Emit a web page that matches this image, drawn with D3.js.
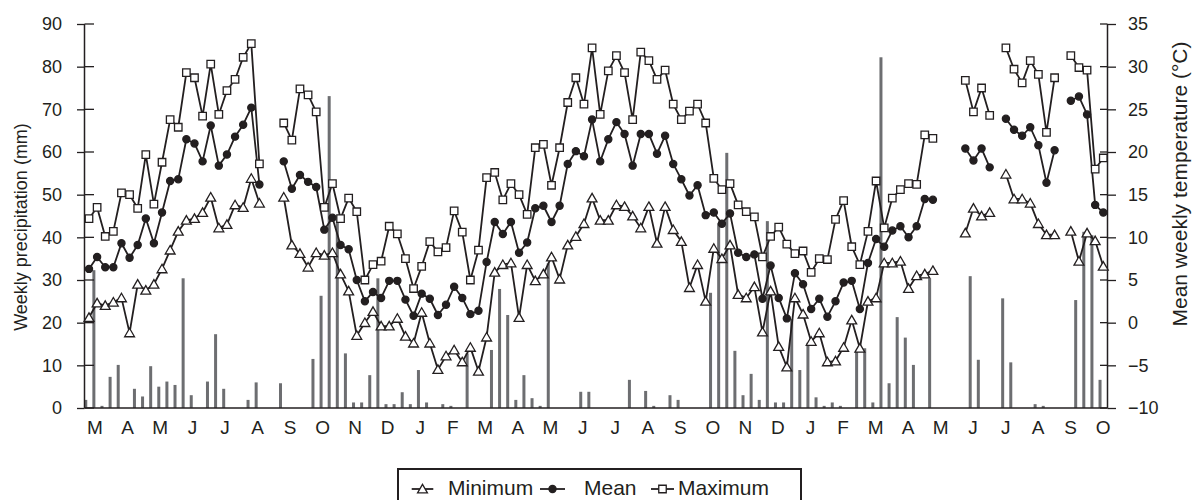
<!DOCTYPE html>
<html><head><meta charset="utf-8">
<script src="https://cdn.jsdelivr.net/npm/d3@7"></script>
<style>
body{margin:0;background:#fff;}
svg text{font-family:"Liberation Sans",Arial,Helvetica,sans-serif;fill:#231f20;}
</style></head><body>
<svg id="c" width="1193" height="500"></svg>
<script>
// weekly data, index = week number (0 = pre-week with rain only)
const precip = [
 1.9,32.3,0.5,7.3,10.1,0,4.5,2.7,9.8,5.0,
 6.2,5.4,30.4,3.0,0,6.2,17.3,4.5,0,0,
 1.9,6.0,0,0,5.8,0,0,0,11.5,26.3,
 73.1,43.7,12.8,1.3,1.3,7.7,30.4,0.9,0.9,3.7,
 0.9,8.9,1.3,0,0.9,0.5,0,12.8,0,0,
 13.6,27.9,21.8,1.9,7.7,2.3,0.5,33.9,0,0,
 0,3.8,3.8,0,0,0,0,6.6,0,4.0,
 0.5,0,3.0,1.9,0,0,0,27.0,43.3,59.8,
 13.4,3.0,8.0,1.9,43.8,1.3,1.3,20.9,8.9,15.3,
 2.5,0.5,1.3,0.5,0,13.2,14.0,1.3,82.2,5.8,
 21.3,16.5,10.1,0,30.4,0,0,0,0,30.9,
 11.3,0,0,25.7,10.7,0,0,0.9,0.5,0,
 0,0,25.3,41.3,40.5,6.6,0];
const tMax = [
 null,12.2,13.5,10.1,10.7,15.2,15.0,13.4,19.7,13.9,
 18.8,23.8,22.9,29.3,28.7,24.2,30.3,24.4,27.2,28.5,
 31.1,32.7,18.6,null,null,23.4,21.4,27.4,26.7,24.7,
 13.5,16.3,12.2,14.6,13.0,5.0,6.8,7.2,11.3,10.4,
 7.5,4.0,6.6,9.5,8.3,8.8,13.1,10.6,5.0,8.5,
 17.0,17.6,14.4,16.3,15.0,12.7,20.5,20.9,16.1,20.5,
 25.8,28.7,25.6,32.2,24.4,29.5,31.3,29.3,23.8,31.7,
 30.7,28.5,29.6,25.6,23.8,24.8,25.6,23.4,16.9,15.6,
 16.3,13.8,13.0,12.4,7.7,10.1,11.2,9.2,8.1,8.4,
 5.9,7.5,7.4,12.1,14.3,8.9,6.8,10.7,16.6,11.1,
 14.6,15.6,16.3,16.2,22.0,21.6,null,null,null,28.4,
 24.7,27.5,24.3,null,32.2,29.7,28.1,30.7,29.1,22.3,
 28.7,null,31.3,29.9,29.6,18.0,19.3];
const tMean = [
 null,6.3,7.7,6.5,6.5,9.3,7.6,9.1,12.2,9.3,
 12.9,16.6,16.8,21.5,21.0,18.9,23.1,18.4,19.7,21.8,
 23.2,25.2,16.2,null,null,18.9,15.7,17.3,16.5,15.9,
 10.9,12.3,9.1,8.6,5.0,2.5,3.6,2.9,4.9,4.9,
 2.7,0.8,3.4,2.8,0.9,2.1,4.2,2.9,1.0,1.4,
 7.1,11.8,10.4,11.8,8.2,9.4,13.4,13.7,11.8,13.7,
 18.6,20.1,19.5,23.8,18.9,21.5,23.5,22.1,18.4,22.1,
 22.1,19.8,21.9,18.6,16.8,14.9,16.1,12.6,12.9,11.6,
 12.8,8.2,7.7,8.0,2.8,6.7,2.9,0.5,5.8,4.5,
 1.6,2.8,0.7,2.5,4.7,4.9,1.6,7.0,9.8,8.9,
 10.8,11.3,10.0,11.3,14.5,14.4,null,null,null,20.4,
 19.0,20.4,18.2,null,23.9,22.6,21.9,22.9,20.8,16.4,
 20.2,null,26.0,26.5,24.4,13.8,12.9];
const tMin = [
 null,0.6,2.3,2.0,2.4,2.9,-1.2,4.5,3.8,4.5,
 6.3,8.5,10.7,12.0,12.2,12.9,14.7,11.1,11.5,13.8,
 13.5,16.9,14.0,null,null,14.7,9.1,8.1,6.5,8.2,
 7.9,8.2,5.7,3.7,-1.5,0.0,1.3,-0.4,-0.4,0.5,
 -1.6,-2.4,1.2,-2.4,-5.5,-3.9,-3.2,-4.6,-2.9,-5.7,
 -1.7,5.9,6.8,7.0,0.6,6.8,4.9,5.7,7.7,5.1,
 9.1,10.1,11.6,14.6,12.0,12.0,13.8,13.6,12.5,11.1,
 13.6,9.3,13.6,10.9,9.5,4.1,6.8,2.5,8.7,7.5,
 9.1,3.3,2.9,4.2,-1.1,3.7,-2.8,-5.2,2.9,1.0,
 -2.2,-1.2,-4.6,-4.5,-2.9,0.3,-3.0,2.5,2.9,7.0,
 7.0,7.2,4.0,5.5,5.7,6.1,null,null,null,10.5,
 13.4,12.5,12.9,null,17.4,14.5,14.5,14.0,11.6,10.3,
 10.3,null,10.7,7.2,10.5,9.6,6.6];
const months = ["M","A","M","J","J","A","S","O","N","D","J","F","M","A","M","J","J","A","S","O","N","D","J","F","M","A","M","J","J","A","S","O"];
const precipTicks = [0,10,20,30,40,50,60,70,80,90];
const tempTicks = [-10,-5,0,5,10,15,20,25,30,35];
const tempTickLabels = ["\u221210","\u22125","0","5","10","15","20","25","30","35"];
const seriesNames = ["Minimum","Mean","Maximum"];

const svg = d3.select("#c");
const L = 84.5, R = 1107.5, T = 24, B = 408;
const ink = "#231f20", barCol = "#6d6e71";
const x = d3.scaleLinear().domain([0.445, 126.52]).range([L, R]);
const step = x(1) - x(0);
const yP = d3.scaleLinear().domain([0, 90]).range([B, T]);
const yT = d3.scaleLinear().domain([-10, 35]).range([B, T]);

// bars
svg.append("g").selectAll("rect").data(precip.map((v,i)=>({w:i,v})).filter(d=>d.v>0))
  .join("rect")
  .attr("x", d => x(d.w) + 0.6*step - 1.5)
  .attr("width", 3)
  .attr("y", d => yP(d.v))
  .attr("height", d => B - yP(d.v))
  .attr("fill", barCol);

// axes
const gl = svg.append("g").attr("transform", `translate(${L},0)`)
  .call(d3.axisLeft(yP).tickValues(precipTicks).tickSize(7.5).tickPadding(15).tickSizeOuter(0));
const gr = svg.append("g").attr("transform", `translate(${R},0)`)
  .call(d3.axisRight(yT).tickValues(tempTicks).tickFormat((d,i)=>tempTickLabels[i]).tickSize(8.5).tickPadding(12).tickSizeOuter(0));
[gl, gr].forEach(g => {
  g.select(".domain").remove();
  g.selectAll(".tick line").attr("stroke", ink).attr("stroke-width", 1.3);
  g.selectAll(".tick text").attr("font-size", 18).attr("fill", ink)
    .style("font-family", '"Liberation Sans",Arial,Helvetica,sans-serif');
});
// inner tick halves
svg.append("g").selectAll("line").data(precipTicks).join("line")
  .attr("x1", L).attr("x2", L + 9.5).attr("y1", d => yP(d)).attr("y2", d => yP(d))
  .attr("stroke", ink).attr("stroke-width", 1.3);
svg.append("g").selectAll("line").data(tempTicks).join("line")
  .attr("x1", R - 7.5).attr("x2", R).attr("y1", d => yT(d)).attr("y2", d => yT(d))
  .attr("stroke", ink).attr("stroke-width", 1.3);
// frame lines
svg.append("line").attr("x1", L).attr("x2", L).attr("y1", T).attr("y2", B).attr("stroke", ink).attr("stroke-width", 1.5);
svg.append("line").attr("x1", R).attr("x2", R).attr("y1", T).attr("y2", B).attr("stroke", ink).attr("stroke-width", 1.5);
svg.append("line").attr("x1", L).attr("x2", R).attr("y1", B).attr("y2", B).attr("stroke", ink).attr("stroke-width", 1.5);

// month labels
const mx = d3.scaleLinear().domain([0, months.length - 1]).range([x(1.74), x(125.99)]);
svg.append("g").selectAll("text").data(months).join("text")
  .attr("x", (d,i) => mx(i)).attr("y", 434)
  .attr("text-anchor", "middle").attr("font-size", 19).text(d => d);

// axis titles
svg.append("text").attr("transform", "translate(27,227) rotate(-90)")
  .attr("text-anchor", "middle").attr("font-size", 18).text("Weekly precipitation (mm)");
svg.append("text").attr("transform", "translate(1187,184) rotate(-90)")
  .attr("text-anchor", "middle").attr("font-size", 21).text("Mean weekly temperature (\u00b0C)");

// series
const tri = d3.symbol().type(d3.symbolTriangle).size(42)();
const sq = d3.symbol().type(d3.symbolSquare).size(56)();
const circ = d3.symbol().type(d3.symbolCircle).size(40)();
const series = [
  {vals: tMin, sym: tri, fill: "#fff", dy: 1},
  {vals: tMean, sym: circ, fill: ink, dy: 0},
  {vals: tMax, sym: sq, fill: "#fff", dy: 0}
];
const line = d3.line().defined(d => d.v != null).x(d => x(d.w)).y(d => yT(d.v));
series.forEach(s => {
  const pts = s.vals.map((v,i) => ({w:i, v}));
  svg.append("path").datum(pts).attr("d", line)
    .attr("fill", "none").attr("stroke", ink).attr("stroke-width", 1.8).attr("stroke-linejoin", "round");
  svg.append("g").selectAll("path").data(pts.filter(d => d.v != null)).join("path")
    .attr("d", s.sym)
    .attr("transform", d => `translate(${x(d.w)},${yT(d.v) + s.dy})`)
    .attr("fill", s.fill).attr("stroke", ink).attr("stroke-width", 1.3);
});

// legend
const lg = svg.append("g");
lg.append("rect").attr("x", 398).attr("y", 469).attr("width", 403).attr("height", 45)
  .attr("fill", "#fff").attr("stroke", ink).attr("stroke-width", 2);
const legItems = [
  {x0: 411.7, x1: 433.3, tx: 448, sym: tri, fill: "#fff", dy: 1},
  {x0: 540, x1: 565, tx: 584, sym: circ, fill: ink, dy: 0},
  {x0: 651, x1: 674, tx: 678, sym: sq, fill: "#fff", dy: 0}
];
legItems.forEach((it, i) => {
  const ly = 489;
  lg.append("line").attr("x1", it.x0).attr("x2", it.x1).attr("y1", ly).attr("y2", ly)
    .attr("stroke", ink).attr("stroke-width", 1.8);
  lg.append("path").attr("d", it.sym).attr("transform", `translate(${(it.x0+it.x1)/2},${ly + it.dy})`)
    .attr("fill", it.fill).attr("stroke", ink).attr("stroke-width", 1.3);
  lg.append("text").attr("x", it.tx).attr("y", 495).attr("font-size", 21).text(seriesNames[i]);
});
</script>
</body></html>
